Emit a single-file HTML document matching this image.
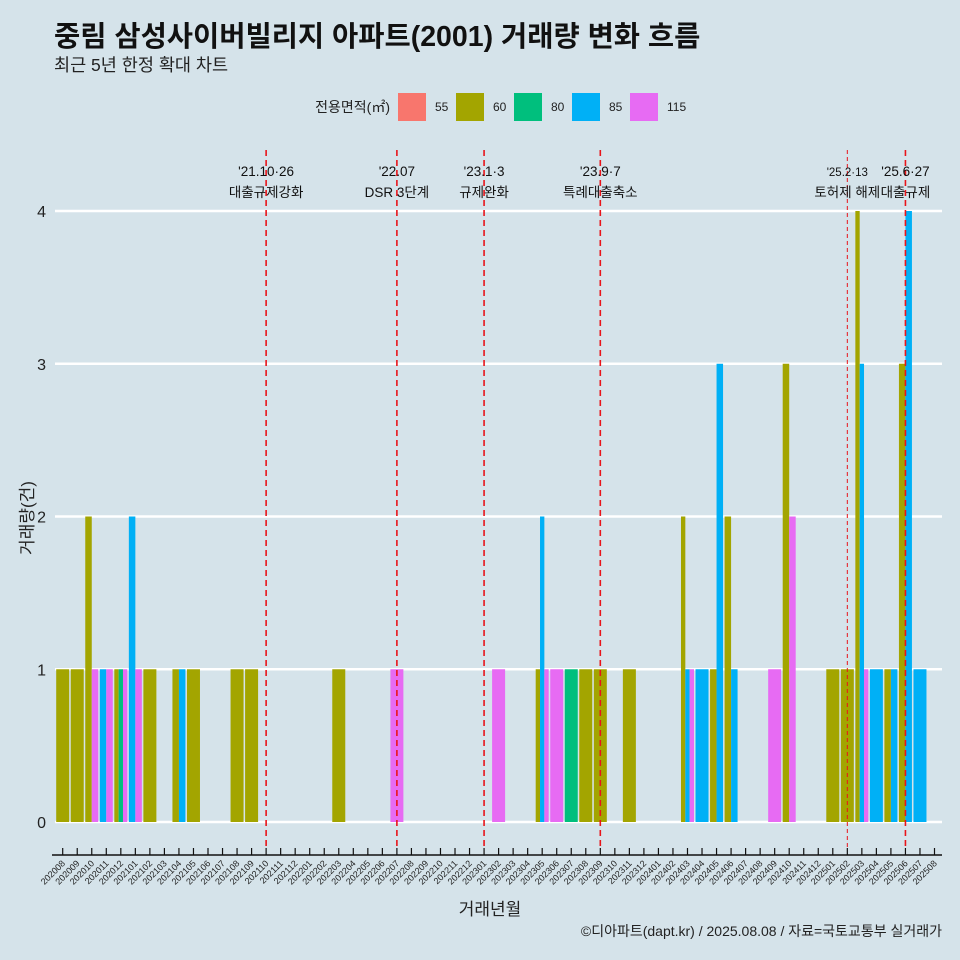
<!DOCTYPE html>
<html><head><meta charset="utf-8">
<style>
body{margin:0;background:#d5e3ea;}
svg{display:block;font-family:"Liberation Sans","Noto Sans CJK KR",sans-serif;}
</style></head>
<body>
<svg id="chart" width="960" height="960" viewBox="0 0 960 960">
<rect width="960" height="960" fill="#d5e3ea"/>
<text x="54" y="46" font-size="28.5" font-weight="bold" fill="#111">중림 삼성사이버빌리지 아파트(2001) 거래량 변화 흐름</text>
<text x="54" y="71" font-size="17.5" fill="#222">최근 5년 한정 확대 차트</text>
<g id="legend">
<text x="390" y="112" font-size="14" text-anchor="end" fill="#222">전용면적(㎡)</text>
</g>
<g id="grid"></g>
<g id="bars"></g>
<g id="events"></g>
<g id="axes"></g>
<text x="490" y="915" font-size="17" text-anchor="middle" fill="#222">거래년월</text>
<text transform="translate(33,518) rotate(-90)" font-size="17" text-anchor="middle" fill="#222">거래량(건)</text>
<text x="942" y="936" font-size="14" text-anchor="end" fill="#222">©디아파트(dapt.kr) / 2025.08.08 / 자료=국토교통부 실거래가</text>
</svg>
<script>
const months = [];
for (let y = 2020; y <= 2025; y++) for (let m = 1; m <= 12; m++) {
  const k = y * 100 + m; if (k >= 202008 && k <= 202508) months.push(String(k));
}
const sizes = ["55","60","80","85","115"];
const colors = {"55":"#F8766D","60":"#A3A500","80":"#00BF7D","85":"#00B0F6","115":"#E76BF3"};
// [month, size, count]
const records = [
["202008","60",1],["202009","60",1],["202010","60",2],["202010","115",1],
["202011","85",1],["202011","115",1],["202012","60",1],["202012","80",1],["202012","115",1],
["202101","85",2],["202101","115",1],["202102","60",1],["202104","60",1],["202104","85",1],
["202105","60",1],["202108","60",1],["202109","60",1],["202203","60",1],["202207","115",1],
["202302","115",1],["202305","60",1],["202305","85",2],["202305","115",1],["202306","115",1],
["202307","80",1],["202308","60",1],["202309","60",1],["202311","60",1],
["202403","60",2],["202403","85",1],["202403","115",1],["202404","85",1],
["202405","60",1],["202405","85",3],["202406","60",2],["202406","85",1],
["202409","115",1],["202410","60",3],["202410","115",2],
["202501","60",1],["202502","60",1],["202503","60",4],["202503","85",3],["202503","115",1],
["202504","85",1],["202505","60",1],["202505","85",1],["202506","60",3],["202506","85",4],["202507","85",1]
];
const yTicks = [0,1,2,3,4];
const eventMonths = ["202110","202207","202301","202309","202502","202506"];
const eventLabels = [["'21.10·26","대출규제강화"],["'22.07","DSR 3단계"],["'23.1·3","규제완화"],["'23.9·7","특례대출축소"],["'25.2·13","토허제 해제"],["'25.6·27","대출규제"]];

const NS = "http://www.w3.org/2000/svg";
const x0 = 62.7, step = 14.53, slot = 13;
const xPos = i => x0 + i * step;
const yPos = v => 822 - v * 152.75;
function mk(tag, attrs, parent) {
  const e = document.createElementNS(NS, tag);
  for (const k in attrs) e.setAttribute(k, attrs[k]);
  parent.appendChild(e); return e;
}
const grid = document.getElementById('grid'), bars = document.getElementById('bars'),
      ev = document.getElementById('events'), axes = document.getElementById('axes'),
      legend = document.getElementById('legend');
sizes.forEach((s, i) => {
  const lx = 398 + i * 58;
  const r = mk('rect', {x: lx, y: 93, width: 28, height: 28, fill: colors[s]}, legend);
  
  
  const t = mk('text', {x: lx + 37, y: 111, 'font-size': 12, fill: '#222'}, legend);
  t.textContent = s;
  
  
});
yTicks.forEach(v => {
  const l = mk('line', {x1: 55, x2: 942, y1: yPos(v), y2: yPos(v), stroke: '#fff', 'stroke-width': 2.5}, grid);
  
  
  const t = mk('text', {x: 46, y: yPos(v) + 6, 'font-size': 16, 'text-anchor': 'end', fill: '#222'}, axes);
  t.textContent = v;
  
  
});
months.forEach((m, i) => {
  const recs = records.filter(r => r[0] === m).sort((a, b) => sizes.indexOf(a[1]) - sizes.indexOf(b[1]));
  const n = recs.length; if (!n) return;
  const w = slot / n;
  recs.forEach((r, j) => {
    const bx = xPos(i) - slot / 2 + j * w;
    const b = mk('rect', {x: bx, y: yPos(r[2]), width: w, height: yPos(0) - yPos(r[2]), fill: colors[r[1]]}, bars);
    
    
  });
});
eventMonths.forEach((em, i) => {
  const ex = xPos(months.indexOf(em));
  const thin = i === 4;
  const l = mk('line', {x1: ex, x2: ex, y1: 150, y2: 850, stroke: '#e8141a', 'stroke-width': thin ? 1 : 1.6, 'stroke-dasharray': thin ? '4,3' : '6,4'}, ev);
  
  
  const fs = thin ? 11.5 : 13.5;
  const t1 = mk('text', {x: ex, y: 176, 'font-size': fs, 'text-anchor': 'middle', fill: '#111'}, ev);
  t1.textContent = eventLabels[i][0];
  
  
  const t2 = mk('text', {x: ex, y: 197, 'font-size': 13.5, 'text-anchor': 'middle', fill: '#111'}, ev);
  t2.textContent = eventLabels[i][1];
  
  
});
const ax = mk('line', {x1: 52, x2: 942, y1: 855, y2: 855, stroke: '#111', 'stroke-width': 1.5}, axes);


months.forEach((m, i) => {
  const tx = xPos(i);
  const tk = mk('line', {x1: tx, x2: tx, y1: 848, y2: 855, stroke: '#111', 'stroke-width': 1.2}, axes);
  
  
  const t = mk('text', {x: tx + 3, y: 864, 'font-size': 9, 'text-anchor': 'end', fill: '#222', transform: `rotate(-45 ${tx + 3} 864)`}, axes);
  t.textContent = m;
  
  
});
</script>
</body></html>
